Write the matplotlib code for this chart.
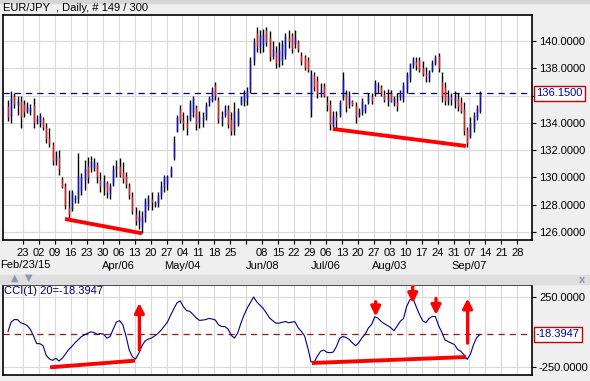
import numpy as np
import matplotlib
matplotlib.use("Agg")
import matplotlib.pyplot as plt
from matplotlib.patches import Rectangle
from matplotlib.transforms import blended_transform_factory

plt.rcParams['font.family'] = ['Liberation Sans', 'DejaVu Sans']

# --- data (EUR/JPY daily, 149 bars) ---
high = [135.7, 136.3, 136.2, 136.0, 136.0, 135.7, 135.5, 135.4, 135.8, 134.6,
        134.7, 134.4, 134.0, 133.6, 132.6, 131.9, 132.0, 130.0, 129.6, 129.1,
        129.1, 128.7, 131.8, 130.3, 131.3, 131.5, 131.6, 131.4, 131.1, 130.4,
        130.2, 129.7, 129.6, 130.9, 131.3, 131.4, 131.1, 130.4, 129.6, 128.9,
        127.8, 127.6, 127.5, 128.5, 128.7, 128.9, 128.3, 128.9, 129.7, 130.2,
        130.2, 130.8, 133.0, 134.6, 135.3, 134.8, 134.6, 135.7, 136.0, 135.3,
        134.9, 134.8, 135.5, 136.0, 136.6, 137.0, 135.9, 134.9, 135.3, 135.3,
        134.8, 135.5, 135.1, 136.0, 136.4, 136.6, 138.8, 140.2, 141.0, 140.8,
        140.9, 141.0, 140.7, 140.0, 139.6, 139.9, 140.1, 140.6, 140.8, 140.6,
        140.8, 140.1, 139.2, 139.0, 138.8, 137.9, 137.7, 137.4, 136.9, 136.9,
        136.0, 135.7, 134.9, 134.9, 135.7, 137.7, 136.4, 136.3, 135.7, 135.5,
        135.1, 135.8, 135.4, 136.2, 136.2, 137.1, 137.0, 136.8, 136.4, 136.5,
        136.4, 136.0, 136.2, 136.4, 137.0, 137.7, 138.4, 138.8, 138.8, 138.8,
        138.5, 138.1, 137.9, 138.6, 139.0, 139.1, 137.7, 137.0, 136.4, 136.2,
        136.3, 136.2, 135.9, 135.5, 133.7, 134.4, 134.8, 135.3, 136.3]
low = [134.1, 134.0, 135.1, 134.6, 133.6, 134.4, 134.7, 134.6, 133.6, 133.9,
       133.7, 133.5, 132.5, 132.2, 130.9, 130.9, 130.2, 129.2, 127.7, 127.0,
       127.5, 128.1, 128.1, 128.7, 129.1, 129.6, 130.4, 130.5, 129.6, 128.9,
       128.7, 128.5, 128.4, 129.4, 130.0, 130.0, 129.6, 129.2, 128.4, 127.3,
       126.5, 126.2, 125.95, 126.7, 127.6, 127.6, 127.8, 127.8, 128.4, 128.9,
       129.1, 130.0, 131.3, 133.3, 134.0, 133.5, 133.1, 134.1, 134.4, 133.5,
       133.6, 133.7, 134.2, 135.2, 135.5, 135.7, 134.0, 133.8, 134.4, 133.6,
       133.1, 133.1, 133.8, 135.3, 135.2, 135.3, 136.2, 138.2, 139.2, 139.1,
       139.2, 139.6, 138.5, 138.7, 138.0, 138.1, 138.2, 138.7, 139.5, 139.1,
       139.5, 139.2, 138.2, 137.9, 137.7, 134.4, 136.3, 135.8, 135.9, 135.9,
       134.9, 133.5, 133.5, 133.6, 134.4, 135.7, 134.8, 135.1, 135.2, 134.0,
       134.4, 134.6, 134.7, 135.4, 135.4, 136.0, 136.2, 136.0, 135.5, 135.2,
       135.5, 135.2, 134.9, 135.7, 135.5, 136.2, 137.0, 138.0, 137.9, 137.7,
       137.4, 137.0, 137.0, 137.7, 138.2, 137.7, 135.5, 135.3, 135.3, 135.3,
       135.1, 134.9, 134.7, 133.1, 132.2, 132.9, 133.3, 134.2, 134.7]
open_ = [135.2, 134.5, 136.0, 135.3, 135.6, 135.4, 134.9, 134.8, 135.3, 134.1,
         134.0, 134.3, 133.7, 132.9, 132.4, 131.3, 131.5, 129.9, 129.4, 127.8,
         127.7, 128.4, 128.5, 129.0, 129.8, 130.8, 130.7, 130.7, 130.9, 129.8,
         129.3, 129.6, 128.8, 129.6, 130.6, 130.8, 130.4, 130.1, 129.4, 128.6,
         127.3, 126.8, 126.4, 127.1, 127.9, 128.4, 128.0, 128.1, 128.7, 129.3,
         129.5, 130.1, 131.5, 133.4, 135.0, 134.2, 134.0, 134.3, 134.8, 135.1,
         134.0, 134.2, 134.4, 135.5, 135.7, 136.8, 135.7, 134.2, 134.6, 135.0,
         134.3, 133.5, 134.0, 135.4, 135.6, 135.8, 136.4, 138.6, 140.6, 139.5,
         139.8, 140.8, 140.2, 138.9, 139.2, 138.5, 138.6, 139.0, 140.2, 140.4,
         139.8, 140.0, 139.0, 138.8, 138.6, 135.0, 137.5, 137.1, 136.2, 136.7,
         135.5, 135.4, 133.8, 134.4, 134.6, 135.9, 136.1, 135.4, 135.6, 135.2,
         134.6, 134.8, 134.9, 135.5, 136.0, 136.2, 136.6, 136.6, 136.1, 135.6,
         136.2, 135.4, 135.5, 135.9, 135.8, 136.5, 137.3, 138.2, 138.5, 138.6,
         138.0, 137.6, 137.3, 137.8, 138.4, 138.9, 137.0, 136.6, 135.6, 135.9,
         135.6, 135.8, 135.5, 135.0, 133.5, 133.0, 133.6, 134.4, 134.9]
close = [134.4, 135.8, 135.4, 135.6, 134.4, 134.8, 135.2, 135.1, 134.0, 134.3,
         134.5, 133.7, 132.9, 132.5, 131.2, 131.5, 130.6, 129.3, 128.0, 127.3,
         128.9, 128.5, 130.2, 130.0, 130.6, 130.0, 131.2, 131.1, 130.0, 129.4,
         129.7, 128.9, 129.4, 130.6, 130.8, 130.2, 129.9, 129.5, 128.7, 127.5,
         126.8, 127.2, 127.1, 128.3, 128.5, 128.2, 128.2, 128.7, 129.4, 130.0,
         130.1, 130.7, 132.6, 134.4, 134.2, 134.0, 133.6, 135.4, 135.8, 133.9,
         134.5, 134.4, 135.3, 135.8, 136.4, 136.0, 134.3, 134.5, 135.0, 133.9,
         133.4, 134.9, 134.9, 135.9, 136.1, 136.3, 138.6, 139.9, 139.6, 140.4,
         140.5, 139.9, 138.8, 139.4, 138.4, 139.3, 139.8, 140.3, 140.0, 139.4,
         140.3, 139.4, 138.5, 138.1, 137.9, 137.5, 136.6, 136.1, 136.5, 136.0,
         135.3, 133.9, 134.5, 134.2, 135.5, 137.2, 135.2, 136.0, 135.3, 134.4,
         134.8, 135.6, 135.3, 136.0, 135.6, 136.9, 136.7, 136.2, 135.7, 135.9,
         135.6, 135.8, 135.2, 136.2, 136.8, 137.5, 138.2, 138.6, 138.2, 137.9,
         137.6, 137.4, 137.7, 138.4, 138.8, 138.0, 136.0, 135.6, 136.0, 135.7,
         135.9, 135.2, 134.9, 133.4, 132.5, 134.0, 134.6, 135.1, 136.15]
cci = [2, 70, 88, 87, 65, 57, 45, 18, -30, -85,
       -85, -100, -170, -195, -205, -190, -210, -190, -160, -128,
       -105, -79, -57, -35, -22, -10, 0, -6, -18, -12,
       -18, -45, -35, 20, 70, 80, 50, -30, -130, -180,
       -195, -155, -100, -65, -52, -45, -30, -12, 12, 40,
       70, 120, 165, 208, 222, 180, 152, 147, 125, 100,
       82, 84, 88, 96, 92, 85, 50, 38, 38, 20,
       -25, -45, -10, 60, 120, 170, 210, 250, 215, 192,
       168, 135, 100, 80, 62, 62, 68, 74, 65, 70,
       72, 28, 3, -30, -115, -215, -218, -175, -140, -131,
       -147, -150, -145, -105, -46, -34, -40, -55, -80, -100,
       -78, -42, -18, 28, 52, 108, 98, 75, 58, 45,
       30, 8, 40, 76, 95, 182, 230, 238, 180, 125,
       80, 65, 95, 110, 110, 45, -2, -58, -70, -81,
       -92, -127, -140, -165, -198, -160, -90, -40, -18.3947]

week_days = ["23", "02", "09", "16", "23", "30", "06", "13", "20", "27", "04", "11",
             "18", "25", "", "08", "15", "22", "29", "06", "13", "20", "27", "03",
             "10", "17", "24", "31", "07", "14", "21", "28"]
months = {"Apr/06": 6, "May/04": 10, "Jun/08": 15,
          "Jul/06": 19, "Aug/03": 23, "Sep/07": 28}
first_month = "Feb/23/15"
price_levels = [126, 128, 130, 132, 134, 136, 138, 140]

# hand-drawn red annotations (bar index, value)
price_lines = [((17.9, 126.95), (42.0, 125.9)), ((101.9, 133.55), (143.6, 132.3))]
cci_lines = [((13.2, -255), (39.8, -207)), ((95.3, -224), (143.6, -181))]
cci_arrows = [(41.2, -129, 207), (144.1, -81, 240), (115.3, 216, 110),
              (126.9, 348, 205), (134.2, 240, 121)]

last_price = close[-1]
last_cci = cci[-1]

idx = np.arange(len(close))
ticks = [4.7 + 5 * k for k in range(len(week_days))]
grid_c = '#d9d9d9'
bg = '#efefef'

fig = plt.figure(figsize=(5.9, 3.81), dpi=100, facecolor=bg)
W, H = 590.0, 381.0

def box(x0, y0, x1, y1):
    return [x0 / W, 1 - y1 / H, (x1 - x0) / W, (y1 - y0) / H]

# top strip and scroll band
fig.patches.append(Rectangle((0, 1 - 3 / H), 1, 3 / H, transform=fig.transFigure,
                             color='#d6d6d6', zorder=0))
fig.patches.append(Rectangle((0, 1 - 284 / H), 1, 9 / H, transform=fig.transFigure,
                             color='#dedede', zorder=0))
fig.text(15 / W, 1 - 278 / H, '▲', fontsize=7, color='#8896b4', ha='center', va='center',
         family=['DejaVu Sans'])
fig.text(29 / W, 1 - 278 / H, '▼', fontsize=7, color='#8896b4', ha='center', va='center',
         family=['DejaVu Sans'])
fig.text(582 / W, 1 - 280 / H, 'x', fontsize=8, color='#8896b4', ha='center', va='center',
         fontweight='bold')

fig.text(3 / W, 1 - 8 / H, 'EUR/JPY  , Daily, # 149 / 300', fontsize=8, va='center')
fig.text(0.5 / W, 1 - 265 / H, first_month, fontsize=8, va='center', ha='left')

ax = fig.add_axes(box(3, 15, 532, 240))
ax2 = fig.add_axes(box(3, 285, 532, 375))

# ---- price panel ----
ax.vlines(idx, low, high, colors='black', lw=1.0, zorder=3)
o = np.array(open_)
c = np.array(close)
body_col = ['#dd2020' if cc < oo else '#1010c0' for oo, cc in zip(o, c)]
ax.vlines(idx, np.minimum(o, c), np.maximum(o, c), colors=body_col, lw=1.0, zorder=4)
ax.axhline(last_price, color='#000080', ls=(0, (5, 4)), lw=0.9, zorder=2)
for (x0, y0), (x1, y1) in price_lines:
    ax.plot([x0, x1], [y0, y1], color='#ff0000', lw=2.8, solid_capstyle='butt', zorder=5)

ax.set_xlim(-1.57, 164.3)
ax.set_ylim(125.41, 141.9)
ax.set_yticks(price_levels)
ax.set_yticklabels(['' if v == 136 else '%.4f' % v for v in price_levels])
ax.yaxis.tick_right()
ax.set_xticks(ticks)
ax.set_xticklabels(week_days)
ax.grid(True, color=grid_c, lw=0.8, zorder=0)
ax.tick_params(axis='both', labelsize=8, length=3, width=0.8, pad=2, colors='black')
ax.tick_params(axis='x', pad=3)
trans = blended_transform_factory(ax.transAxes, ax.transData)
ax.text(1.0075, last_price, '136.1500', transform=trans, fontsize=8, color='#0000a0',
        va='center', ha='left',
        bbox=dict(boxstyle='square,pad=0.2', fc='white', ec='#cc0000', lw=1))
for lab, k in months.items():
    ax.text(ticks[k], -0.115, lab, transform=blended_transform_factory(ax.transData, ax.transAxes),
            fontsize=8, ha='center', va='center')

# ---- CCI panel ----
ax2.plot(idx, cci, color='#000080', lw=0.8, zorder=3)
ax2.axhline(last_cci, color='#b01010', ls=(0, (5, 4)), lw=0.9, zorder=2)
for (x0, y0), (x1, y1) in cci_lines:
    ax2.plot([x0, x1], [y0, y1], color='#ff0000', lw=2.8, solid_capstyle='butt', zorder=5)
for xa, y_from, y_to in cci_arrows:
    ax2.annotate('', xy=(xa, y_to), xytext=(xa, y_from), annotation_clip=False,
                 arrowprops=dict(arrowstyle='-|>', color='#ff0000', lw=2.4,
                                 mutation_scale=14, shrinkA=0, shrinkB=0), zorder=6)
ax2.set_xlim(-1.57, 164.3)
ax2.set_ylim(-310, 336)
ax2.set_yticks([-250, 250])
ax2.yaxis.tick_right()
ax2.yaxis.set_major_formatter(matplotlib.ticker.FormatStrFormatter('%.4f'))
ax2.set_xticks(ticks)
ax2.set_xticklabels([])
ax2.tick_params(axis='x', length=0)
ax2.tick_params(axis='y', labelsize=8, length=3, width=0.8, pad=2)
ax2.grid(True, color=grid_c, lw=0.8, zorder=0)
trans2 = blended_transform_factory(ax2.transAxes, ax2.transData)
ax2.text(1.0075, last_cci, '-18.3947', transform=trans2, fontsize=8, color='#0000a0',
         va='center', ha='left',
         bbox=dict(boxstyle='square,pad=0.2', fc='white', ec='#cc0000', lw=1))
ax2.text(0.002, 0.93, 'CCI(1) 20=-18.3947', transform=ax2.transAxes, fontsize=8,
         color='#000080', va='center', ha='left')

for a in (ax, ax2):
    for s in a.spines.values():
        s.set_linewidth(1.2)
        s.set_color('black')

fig.savefig('out.png', dpi=100, facecolor=bg)
